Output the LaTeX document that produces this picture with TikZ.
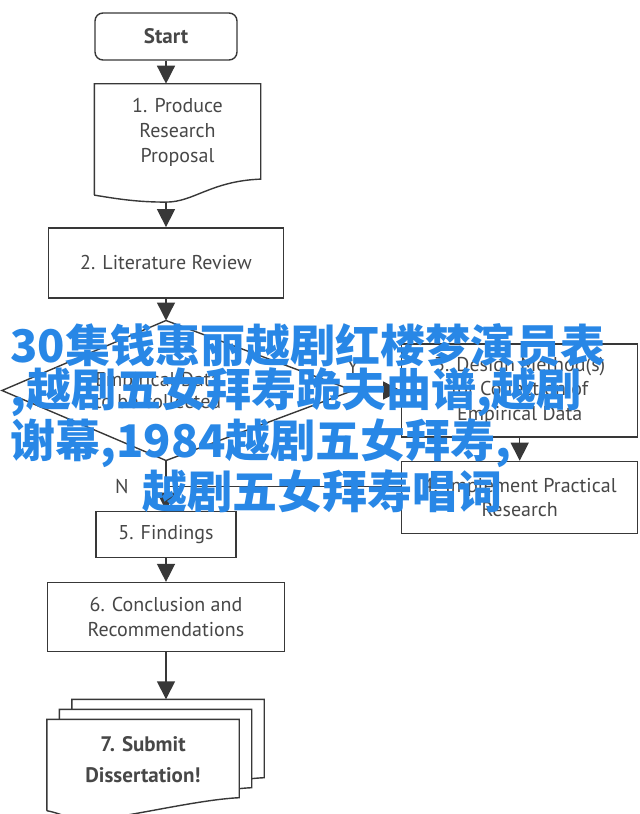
\documentclass[tikz,border=0pt]{standalone}
\usepackage{fontspec}
\setmainfont{PT Sans}
\newfontfamily\cjk{Noto Sans CJK SC}
\usetikzlibrary{positioning,shapes.geometric,arrows.meta,backgrounds}

\definecolor{flowline}{HTML}{383838}
\definecolor{flowtext}{HTML}{474747}
\definecolor{wmblue}{RGB}{40,135,230}

\begin{document}
\begin{tikzpicture}[
        process/.style={
                rectangle,
                draw=flowline,
                fill=white,
                line width=0.7pt,
                text=flowtext,
                align=center,
                inner sep=2pt,
                font=\fontsize{10}{12.3}\selectfont
            },
        terminal/.style={
                process,
                rounded corners=4pt,
                font=\bfseries\fontsize{10.5}{12}\selectfont
            },
        document/.style={
                process,
                draw=none,
                fill=none
            },
        sheets/.style={
                process,
                draw=none,
                fill=none,
                font=\bfseries\fontsize{10.5}{15.5}\selectfont
            },
        decision/.style={text=flowtext, align=center, font=\fontsize{10}{11}\selectfont},
        answer/.style={text=flowtext, font=\fontsize{10}{11}\selectfont},
        flow/.style={draw=flowline, line width=0.7pt},
        watermark/.style={text=wmblue, align=left, inner sep=0pt, font=\cjk\bfseries\fontsize{22.5}{22}\selectfont},
        >={Triangle[width=9pt,length=9pt]}
    ]
    \useasboundingbox (0,0) rectangle (320pt,-407pt);

    \node[terminal, minimum width=71pt, minimum height=23.5pt] (start) at (83pt,-18.25pt) {Start};
    \node[document, minimum width=82.5pt, minimum height=48pt, below=11.5pt of start.south west, anchor=north west] (prop) {1. Produce\\Research\\Proposal};
    \coordinate[below=10.5pt of prop.south -| start.south] (propb);
    \node[process, minimum width=117.5pt, minimum height=35pt, below=12.5pt of propb] (lit) {2. Literature Review};

    % decision: drawn as a kite from its four corners
    \coordinate[below=11pt of lit] (dectop);
    \coordinate[below=70pt of dectop] (decbot);
    \path (dectop) -- (decbot) coordinate[pos=.5] (decmid);
    \coordinate[left=82pt of decmid] (decleft);
    \coordinate[right=93.5pt of decmid] (decright);
    \draw[flow] (dectop) -- (decright) -- (decbot) -- (decleft) -- cycle;
    \node[decision] (dec) at ([xshift=-4pt]decmid) {Empirical Data\\to be collected};

    \node[process, minimum width=118pt, minimum height=46.5pt, right=24pt of decright] (design) {3. Design Method(s)\\for Collection of\\Empirical Data};
    \node[process, minimum width=118pt, minimum height=36pt, below=11.5pt of design] (impl) {4. Implement Practical\\Research};
    \node[process, minimum width=70pt, minimum height=23pt, below=25pt of decbot] (find) {5. Findings};
    \node[process, minimum width=118.5pt, minimum height=34.5pt, below=12pt of find] (concl) {6. Conclusion and\\Recommendations};
    \node[sheets, minimum width=95.5pt, minimum height=40pt, below=33.5pt of concl.south west, anchor=north west] (submit) {7. Submit\\Dissertation!};
    \path ([yshift=10pt]submit.north) coordinate (subtopy);
    \path (decbot) -- (find.north) coordinate[pos=.52] (join);

    % wavy outlines of the document shapes
    \draw[flow] ([yshift=-7pt]prop.south west) -- (prop.north west) -- (prop.north east) -- ([yshift=1pt]prop.south east)
        .. controls +(-25pt,-1pt) and +(14pt,0pt) .. (propb)
        .. controls +(-14pt,0pt) and +(12pt,-2pt) .. ([yshift=-7pt]prop.south west);
    \begin{pgfonlayer}{background}
        \foreach \s in {2,1,0}
            \draw[flow, fill=white, transform canvas={shift={(6.25pt*\s,5pt*\s)}}]
                ([yshift=-5pt]submit.south west) -- (submit.north west) -- (submit.north east) -- ([yshift=1.5pt]submit.south east)
                .. controls +(-22pt,-1pt) and +(14pt,0pt) .. ([xshift=-27pt,yshift=-9.5pt]submit.south)
                .. controls +(-10pt,0pt) and +(8pt,-1.5pt) .. ([yshift=-5pt]submit.south west);
    \end{pgfonlayer}

    \draw[flow,->] (start.south) -- (start.south |- prop.north);
    \draw[flow,->] (propb) -- (lit);
    \draw[flow,->] (lit) -- (dectop);
    \draw[flow,->] (decright) -- node[answer, pos=0, above=5pt] {Y} (design);
    \draw[flow,->] (design) -- (impl);
    \draw[flow,->] (decbot) -- node[answer, pos=.52, left=15pt] {N} (find);
    \draw[flow] (impl.west |- join) -- (join);
    \draw[flow,->] (find) -- (concl);
    \draw[flow,->] (concl) -- (concl.south |- subtopy);

    \node[watermark, anchor=north west] (wm) at (5pt,-161.5pt) {30集钱惠丽越剧红楼梦演员表\\,越剧五女拜寿跪夫曲谱,越剧\\谢幕,1984越剧五女拜寿,\\\hspace*{66pt}越剧五女拜寿唱词};
\end{tikzpicture}
\end{document}
